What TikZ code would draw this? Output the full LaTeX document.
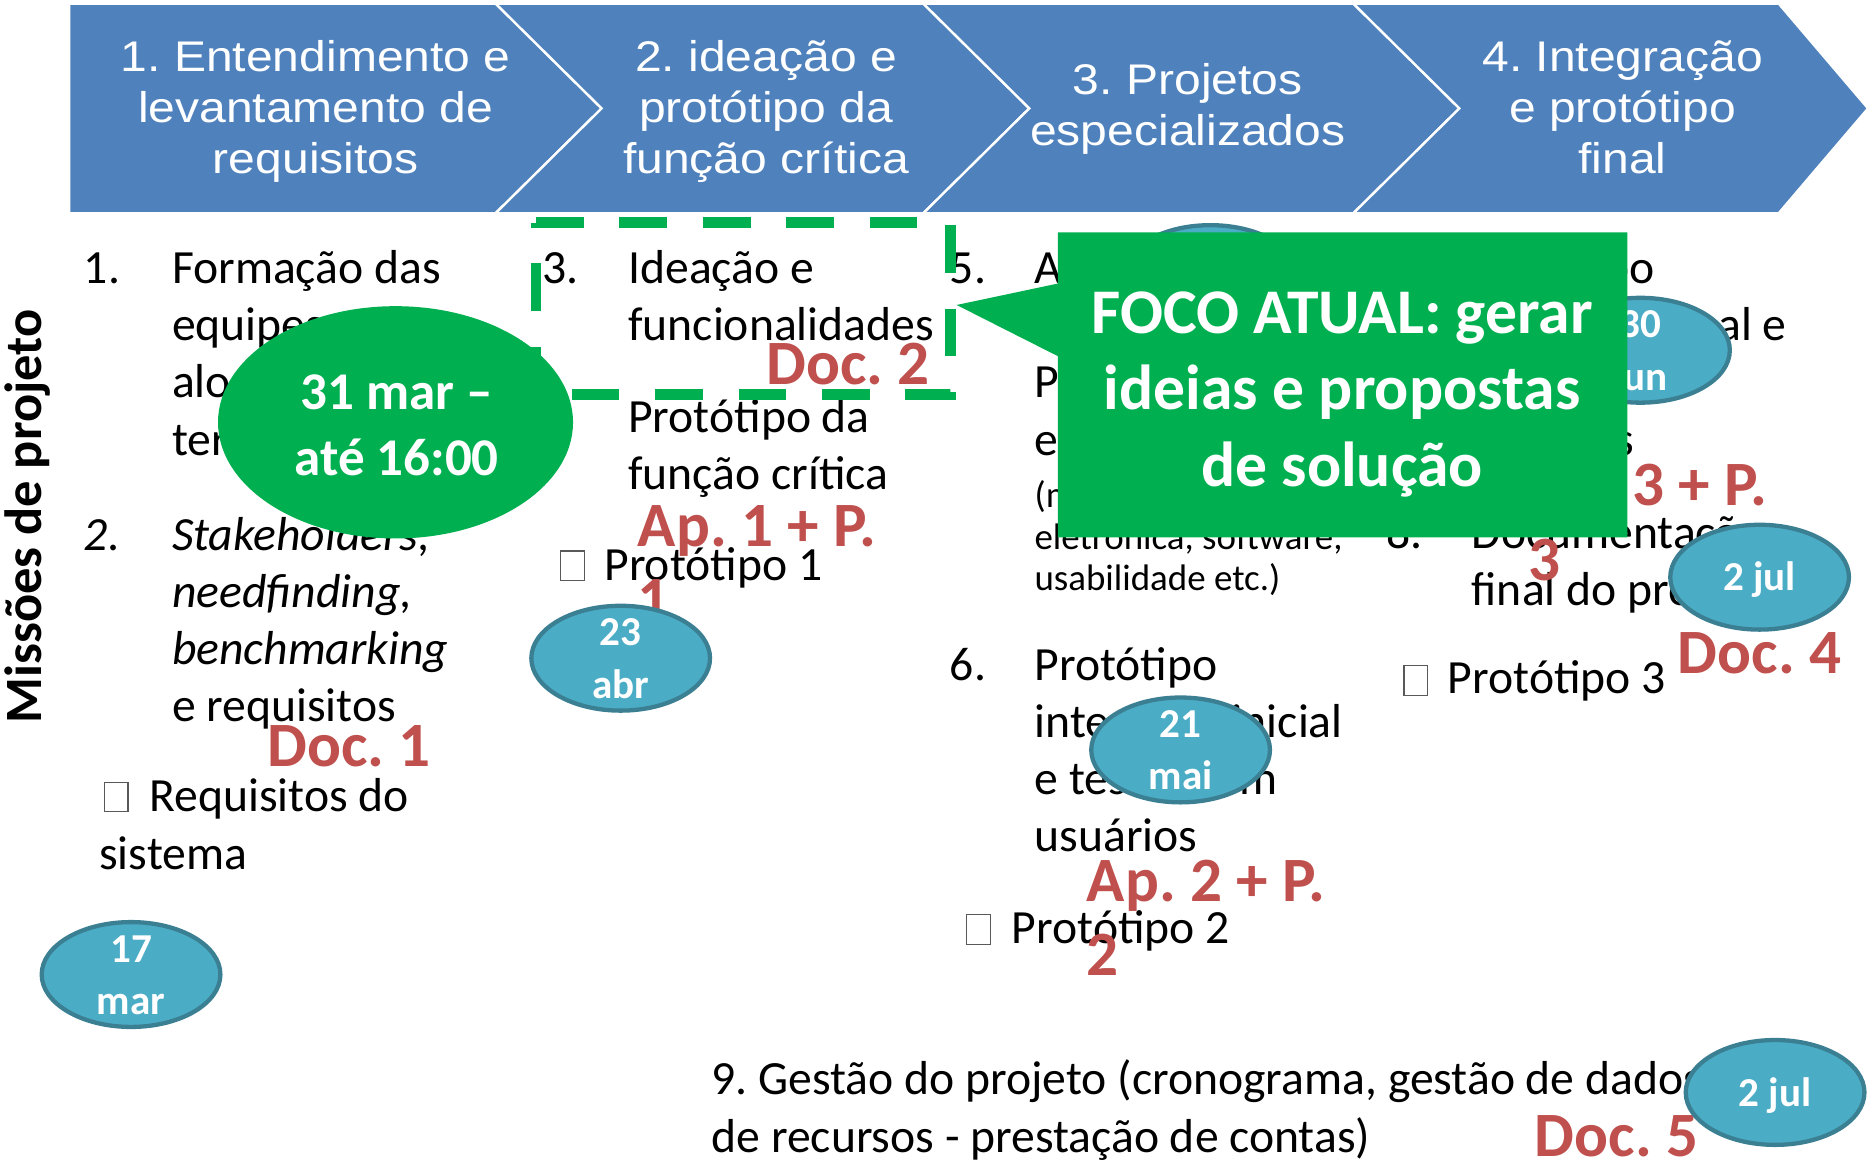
\documentclass[tikz,border=0pt]{standalone}
\usepackage{fontspec}
\setmainfont{Carlito}
\newfontfamily\chevfont[FakeStretch=1.12]{Liberation Sans}
\usetikzlibrary{shapes.geometric}
\definecolor{chevblue}{HTML}{4F81BD}
\definecolor{tealfill}{HTML}{4BACC6}
\definecolor{tealline}{HTML}{3B7F93}
\definecolor{focusgreen}{HTML}{00B050}
\definecolor{doclabel}{HTML}{C0504D}
\definecolor{boxgray}{HTML}{595959}
\frenchspacing
\begin{document}
\frenchspacing
\begin{tikzpicture}[x=0.5pt,y=-0.5pt,
  chevron/.style={fill=chevblue, draw=white, line width=1pt, line join=miter},
  chevtext/.style={anchor=base, inner sep=0, text=white, font=\chevfont\fontsize{18}{21.5}\selectfont},
  body/.style={anchor=base west, inner sep=0, font=\fontsize{20}{24}\selectfont},
  bodyit/.style={anchor=base west, inner sep=0, font=\fontsize{20}{24}\selectfont\itshape},
  bodysmall/.style={anchor=base west, inner sep=0, font=\fontsize{15.5}{18}\selectfont},
  redlabel/.style={anchor=base west, inner sep=0, text=doclabel, font=\fontsize{26.5}{31}\selectfont\bfseries},
  datebubble/.style={ellipse, fill=tealfill, draw=tealline, line width=1.8pt, minimum width=75pt, minimum height=44pt, inner sep=0},
  datetext/.style={anchor=base, inner sep=0, text=white, font=\fontsize{17.25}{22}\selectfont\bfseries},
  checkbox/.style={draw=boxgray, line width=0.5pt, fill=white, minimum width=10pt, minimum height=12.5pt, inner sep=0, anchor=south west},
  greentext/.style={anchor=base, inner sep=0, text=white, font=\fontsize{22.25}{27}\selectfont\bfseries},
  focustext/.style={anchor=base, inner sep=0, text=white, font=\fontsize{26.7}{32}\selectfont\bfseries},
]
\clip (0,0) rectangle (1568,973);
\fill[white] (0,0) rectangle (1568,973);

% ---- chevron bar ----
\path[chevron] (58,3) -- (416,3) -- (505,91) -- (416,179) -- (58,179) -- cycle;
\path[chevron] (416,3) -- (775,3) -- (864,91) -- (775,179) -- (416,179) -- (505,91) -- cycle;
\path[chevron] (775,3) -- (1136,3) -- (1225,91) -- (1136,179) -- (775,179) -- (864,91) -- cycle;
\path[chevron] (1136,3) -- (1493,3) -- (1568,91) -- (1493,179) -- (1136,179) -- (1225,91) -- cycle;

\node[chevtext] (c1a) at (265,60) {1. Entendimento e};
\node[chevtext] (c1b) at (265,103) {levantamento de};
\node[chevtext] (c1c) at (265,146) {requisitos};
\node[chevtext] (c2a) at (643,60) {2. ideação e};
\node[chevtext] (c2b) at (643,103) {protótipo da};
\node[chevtext] (c2c) at (643,146) {função crítica};
\node[chevtext] (c3a) at (997,79) {3. Projetos};
\node[chevtext] (c3b) at (997,122) {especializados};
\node[chevtext] (c4a) at (1362,60) {4. Integração};
\node[chevtext] (c4b) at (1362,103) {e protótipo};
\node[chevtext] (c4c) at (1362,146) {final};

% ---- vertical label ----
\node[rotate=90, anchor=base, inner sep=0, font=\fontsize{22}{26}\selectfont\bfseries] (vlabel) at (35,433.5) {Missões de projeto};

% ---- column 1 ----
\node[body] (n1) at (70,238) {1.};
\node[body] (t1a) at (144,238) {Formação das};
\node[body] (t1b) at (144,286) {equipes e};
\node[body] (t1c) at (144,334) {alocação};
\node[body] (t1d) at (144,382) {termos};
\node[bodyit] (n2) at (70,462) {2.};
\node[bodyit] (t2a) at (144,462) {Stakeholders,};
\node[bodyit] (t2b) at (144,510) {needfinding,};
\node[bodyit] (t2c) at (144,558) {benchmarking};
\node[body] (t2d) at (144,606) {e requisitos};
\node[checkbox] (cb1) at (87,682) {};
\node[body] (r1a) at (125,681.5) {Requisitos do};
\node[body] (r1b) at (83,730) {sistema};

% ---- column 2 ----
\node[body] (n3) at (455,238) {3.};
\node[body] (t3a) at (527,238) {Ideação e};
\node[body] (t3b) at (527,286) {funcionalidades};
\node[body] (t4a) at (527,363) {Protótipo da};
\node[body] (t4b) at (527,411) {função crítica};
\node[checkbox] (cb2) at (470,488) {};
\node[body] (p1) at (507,487) {Protótipo 1};

% ---- column 3 ----
\node[body] (n5) at (797,238) {5.};
\node[body] (t5a) at (868,238) {Arquitetura};
\node[body] (t5c) at (868,334) {Projetos};
\node[body] (t5d) at (868,382) {especializados};
\node[bodysmall] (t5e) at (868,426) {(mecânica,};
\node[bodysmall] (t5f) at (868,461) {eletrônica, software,};
\node[bodysmall] (t5g) at (868,496) {usabilidade etc.)};
\node[body] (n6) at (797,571) {6.};
\node[body] (t6a) at (868,571) {Protótipo};
\node[body] (t6b) at (868,619) {integrado inicial};
\node[body] (t6c) at (868,667) {e testes com};
\node[body] (t6d) at (868,715) {usuários};
\node[checkbox] (cb3) at (811,793) {};
\node[body] (p2) at (849,792) {Protótipo 2};

% ---- column 4 ----
\node[body] (t7a) at (1235,238) {Protótipo};
\node[body] (t7b) at (1235,286) {integrado final e};
\node[body] (t7c) at (1235,334) {e testes};
\node[body] (t7d) at (1235,382) {usuários};
\node[body] (n8) at (1163,460) {8.};
\node[body] (t8a) at (1235,460) {Documentação};
\node[body] (t8b) at (1235,508) {final do projeto};
\node[checkbox] (cb4) at (1178,584) {};
\node[body] (p3) at (1215,582) {Protótipo 3};

% ---- bottom ----
\node[body] (t9a) at (597,919) {9. Gestão do projeto (cronograma, gestão de dados e};
\node[body] (t9b) at (597,967) {de recursos - prestação de contas)};

% ---- red labels ----
\node[redlabel] (doc1) at (224,643) {Doc. 1};
\node[redlabel] (doc2) at (643,323) {Doc. 2};
\node[redlabel] (ap1a) at (535,459) {Ap. 1 + P.};
\node[redlabel] (ap1b) at (535,521) {1};
\node[redlabel] (ap2a) at (912,757) {Ap. 2 + P.};
\node[redlabel] (ap2b) at (912,819) {2};
\node[redlabel] (ap3a) at (1283,424) {Ap. 3 + P.};
\node[redlabel] (ap3b) at (1283,487) {3};
\node[redlabel] (doc4) at (1408,565) {Doc. 4};
\node[redlabel] (doc5) at (1288,971) {Doc. 5};

% ---- dashed focus frame ----
\draw[focusgreen, line width=4.5pt, dash pattern=on 20pt off 15pt] (450,187) -- (798,187) -- (798,331) -- (450,331) -- cycle;

% ---- date bubbles ----
\node[datebubble] (d17) at (110,818) {};
\node[datetext] (d17a) at (110,807.5) {17};
\node[datetext] (d17b) at (110,851.5) {mar};
\node[datebubble] (d23) at (521,552.5) {};
\node[datetext] (d23a) at (521,542) {23};
\node[datetext] (d23b) at (521,586) {abr};
\node[datebubble] (d21) at (991,629.5) {};
\node[datetext] (d21a) at (991,619) {21};
\node[datetext] (d21b) at (991,663) {mai};
\node[datebubble] (dhid) at (1016,233) {};
\node[datebubble] (d30) at (1377,294) {};
\node[datetext] (d30a) at (1377,283.5) {30};
\node[datetext] (d30b) at (1377,327.5) {jun};
\node[datebubble] (d2a) at (1477,484.5) {};
\node[datetext] (d2at) at (1477,496) {2 jul};
\node[datebubble] (d2b) at (1490,917) {};
\node[datetext] (d2bt) at (1490,929) {2 jul};

% ---- green deadline ellipse ----
\node[ellipse, fill=focusgreen, minimum width=149pt, minimum height=97.5pt, inner sep=0] (d31) at (332,354.5) {};
\node[greentext] (d31a) at (333,344) {31 mar –};
\node[greentext] (d31b) at (333,399) {até 16:00};

% ---- focus callout ----
\fill[focusgreen] (888,195) -- (1366,195) -- (1366,451) -- (888,451) -- (888,299) -- (803,256) -- (888,238) -- cycle;
\node[focustext] (f1) at (1126.5,280) {FOCO ATUAL: gerar};
\node[focustext] (f2) at (1126.5,344) {ideias e propostas};
\node[focustext] (f3) at (1126.5,408) {de solução};
\end{tikzpicture}
\end{document}
